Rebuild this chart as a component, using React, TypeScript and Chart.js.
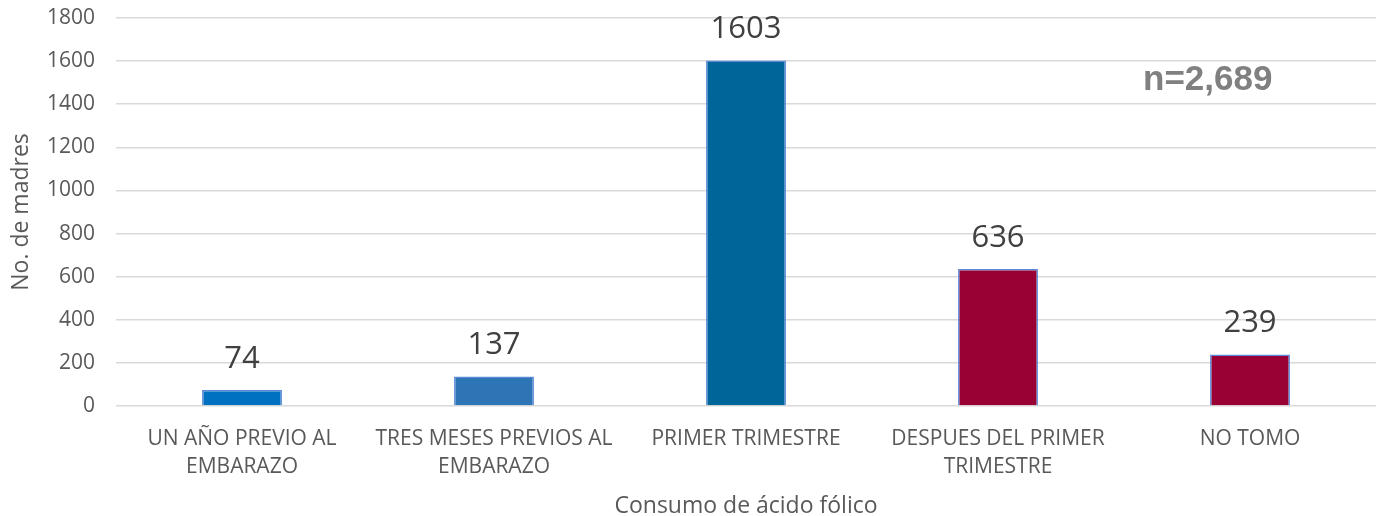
import React, { useEffect, useRef } from "react";
import { Chart, registerables } from "chart.js";

Chart.register(...registerables);

const categories: string[][] = [
  ["UN AÑO PREVIO AL", "EMBARAZO"],
  ["TRES MESES PREVIOS AL", "EMBARAZO"],
  ["PRIMER TRIMESTRE"],
  ["DESPUES DEL PRIMER", "TRIMESTRE"],
  ["NO TOMO"],
];
const values: number[] = [74, 137, 1603, 636, 239];
const barColors: string[] = ["#0070C0", "#2E75B6", "#006699", "#990033", "#990033"];
const yTicks: number[] = [0, 200, 400, 600, 800, 1000, 1200, 1400, 1600, 1800];
const annotationText = "n=2,689";
const xTitle = "Consumo de ácido fólico";
const yTitle = "No. de madres";

const FONT = "'Open Sans', sans-serif";

const labelPlugin = {
  id: "valueLabels",
  afterDatasetsDraw(chart: any) {
    const ctx = chart.ctx;
    const meta = chart.getDatasetMeta(0);
    ctx.save();
    ctx.font = `31px ${FONT}`;
    ctx.fillStyle = "#404040";
    ctx.textAlign = "center";
    ctx.textBaseline = "alphabetic";
    meta.data.forEach((bar: any, i: number) => {
      ctx.fillText(String(values[i]), bar.x, bar.y - 22);
    });
    ctx.font = "bold 35px 'Liberation Sans', Arial, sans-serif";
    ctx.fillStyle = "#808080";
    ctx.textAlign = "left";
    ctx.fillText(annotationText, 1143, 90);
    ctx.restore();
  },
};

export default function App() {
  const ref = useRef<HTMLCanvasElement | null>(null);
  useEffect(() => {
    document.body.style.margin = "0";
    if (!ref.current) return;
    const chart = new Chart(ref.current, {
      type: "bar",
      data: {
        labels: categories,
        datasets: [
          {
            data: values,
            backgroundColor: barColors,
            borderColor: "#5B8BD8",
            borderWidth: 1.5,
            barPercentage: 0.317,
            categoryPercentage: 1,
          },
        ],
      },
      options: {
        animation: false,
        responsive: false,
        maintainAspectRatio: false,
        layout: { padding: { top: 18, right: 1, bottom: 0, left: 0 } },
        plugins: {
          legend: { display: false },
          tooltip: { enabled: false },
        },
        scales: {
          x: {
            grid: { display: false },
            border: { display: false },
            ticks: {
              color: "#595959",
              font: { family: FONT, size: 21, lineHeight: 1.333 },
              padding: 11,
              maxRotation: 0,
              autoSkip: false,
            },
            title: {
              display: true,
              text: xTitle,
              color: "#595959",
              font: { family: FONT, size: 23, lineHeight: 0.85 },
              padding: { top: 4, bottom: 0 },
            },
            afterFit(scale: any) {
              scale.height = 110;
              scale.paddingLeft = 0;
              scale.paddingRight = 0;
            },
          },
          y: {
            min: 0,
            max: 1800,
            afterBuildTicks(scale: any) {
              scale.ticks = yTicks.map((v) => ({ value: v }));
            },
            grid: { color: "#D9D9D9", lineWidth: 1.5, drawTicks: false },
            border: { display: false },
            ticks: {
              color: "#595959",
              font: { family: FONT, size: 21 },
              padding: 21,
              callback: (v: any) => String(v),
            },
            title: {
              display: true,
              text: yTitle,
              color: "#595959",
              font: { family: FONT, size: 23, lineHeight: 1 },
              padding: { top: 10, bottom: 0 },
            },
            afterFit(scale: any) {
              scale.width = 116;
              scale.paddingTop = 0;
              scale.paddingBottom = 0;
            },
          },
        },
      },
      plugins: [labelPlugin],
    });
    return () => chart.destroy();
  }, []);
  return (
    <div style={{ width: 1377, height: 516 }}>
      <canvas ref={ref} width={1377} height={516} style={{ display: "block" }} />
    </div>
  );
}
